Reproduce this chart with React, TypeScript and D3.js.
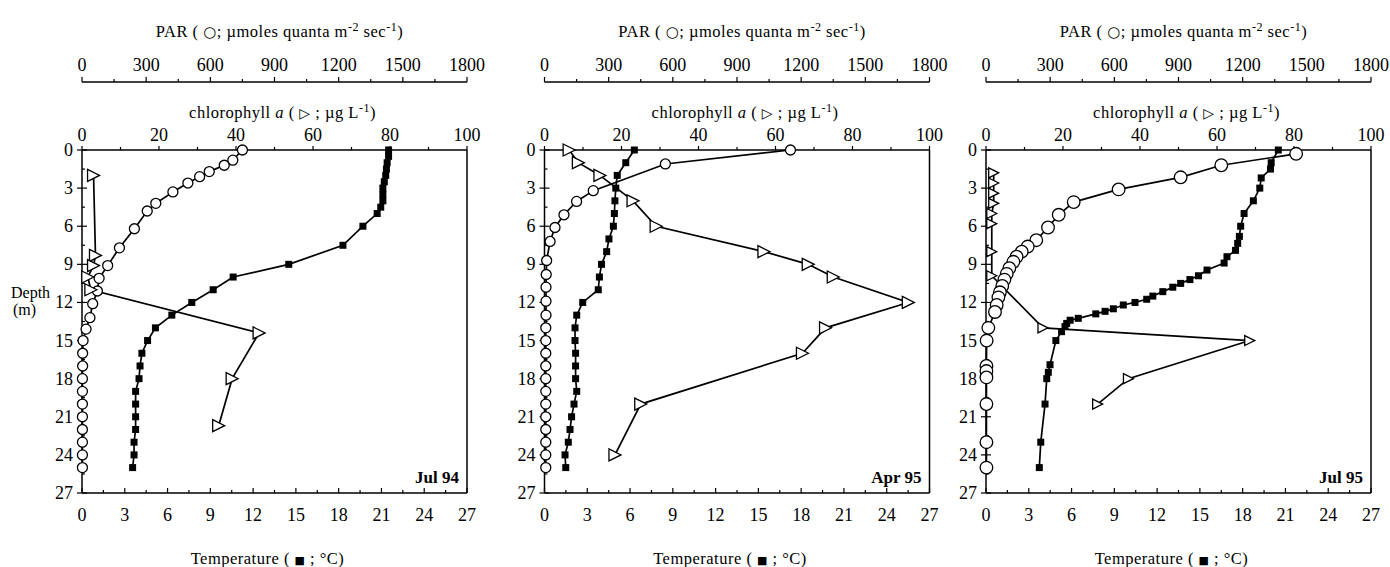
import React from 'react';
import * as d3 from 'd3';

// tick values
const parTicks = [0, 300, 600, 900, 1200, 1500, 1800];
const chlTicks = [0, 20, 40, 60, 80, 100];
const tempTicks = [0, 3, 6, 9, 12, 15, 18, 21, 24, 27];
const depthTicks = [0, 3, 6, 9, 12, 15, 18, 21, 24, 27];
const panelLabels = ['Jul 94', 'Apr 95', 'Jul 95'];

// Jul 94
const jul94ParDepth = [0, 0.8, 1.2, 1.7, 2.1, 2.6, 3.3, 4.2, 4.8, 6.2, 7.7, 9.1, 10.1, 11.1, 12.1, 13.2, 14.1, 15, 16, 17, 18, 19, 20, 21, 22, 23, 24, 25];
const jul94Par = [750, 705, 665, 595, 550, 495, 425, 345, 305, 245, 175, 120, 80, 72, 50, 37, 19, 5, 3, 3, 2, 2, 2, 2, 2, 2, 2, 2];
const jul94ChlDepth = [2, 8.3, 9.1, 10, 11, 14.4, 18, 21.7];
const jul94Chl = [3, 3.5, 3, 1.5, 2.3, 46, 39, 35.5];
const jul94TempDepth = [0, 0.5, 1, 1.5, 2, 2.5, 3, 3.5, 4, 4.5, 5, 6, 7.5, 9, 10, 11, 12, 13, 14, 15, 16, 17, 18, 19, 20, 21, 22, 23, 24, 25];
const jul94Temp = [21.5, 21.5, 21.4, 21.35, 21.3, 21.2, 21.1, 21.1, 21.1, 20.95, 20.7, 19.7, 18.3, 14.5, 10.6, 9.2, 7.7, 6.3, 5.15, 4.6, 4.2, 4.07, 4.0, 3.76, 3.76, 3.76, 3.76, 3.65, 3.65, 3.55];

// Apr 95
const apr95ParDepth = [0, 1.1, 3.2, 4.05, 5.1, 6.1, 7.2, 8.7, 9.8, 10.8, 11.9, 13, 14, 15, 16, 17, 18, 19, 20, 21, 22, 23, 24, 25];
const apr95Par = [1150, 565, 228, 150, 91, 49, 26, 10, 8, 7, 7, 7, 6, 6, 6, 6, 6, 6, 6, 6, 6, 6, 6, 6];
const apr95ChlDepth = [0, 1, 2, 4, 6, 8, 9, 10, 12, 14, 16, 20, 24];
const apr95Chl = [6.4, 8.8, 14.4, 23, 29, 57, 68.5, 75, 94.5, 73, 67, 25, 18.3];
const apr95TempDepth = [0, 1, 2, 3, 4, 5, 6, 7, 8, 9, 10, 11, 12, 13, 14, 15, 16, 17, 18, 19, 20, 21, 22, 23, 24, 25];
const apr95Temp = [6.3, 5.7, 5.1, 5.0, 4.94, 4.9, 4.83, 4.52, 4.36, 4.0, 3.85, 3.77, 2.68, 2.26, 2.14, 2.14, 2.18, 2.18, 2.18, 2.26, 2.07, 1.9, 1.79, 1.67, 1.44, 1.49];

// Jul 95
const jul95ParDepth = [0.3, 1.2, 2.15, 3.1, 4.1, 5.1, 6.1, 7.1, 7.6, 8.0, 8.4, 8.8, 9.3, 9.75, 10.2, 10.7, 11.2, 11.6, 12.2, 12.75, 14, 15, 17, 17.4, 17.9, 20, 23, 25];
const jul95Par = [1450, 1100, 910, 620, 410, 340, 290, 235, 195, 167, 143, 128, 109, 97, 86, 76, 65, 58, 50, 42, 11, 3, 2, 2, 2, 2, 2, 2];
const jul95ChlDepth = [1.8, 2.6, 3.4, 4.2, 5.0, 5.8, 8, 9.9, 14, 15, 18, 20];
const jul95Chl = [2, 2, 2, 2, 1.5, 1.5, 1.5, 1.5, 14.8, 68.5, 37, 29];
const jul95TempDepth = [0, 1, 1.5, 2.2, 3, 4, 5, 6, 6.8, 7.35, 7.9, 8.4, 8.9, 9.45, 9.9, 10.2, 10.5, 10.8, 11.15, 11.5, 11.75, 12, 12.2, 12.5, 12.7, 12.9, 13.25, 13.4, 13.65, 13.9, 14.3, 15, 16.9, 17.5, 18, 20, 23, 25];
const jul95Temp = [20.5, 20.0, 19.95, 19.3, 19.2, 18.75, 18.1, 17.86, 17.77, 17.65, 17.5, 16.9, 16.7, 15.5, 14.9, 14.3, 13.65, 13.1, 12.4, 11.7, 11.27, 10.45, 9.63, 8.93, 8.35, 7.7, 6.47, 5.9, 5.66, 5.54, 5.3, 4.9, 4.49, 4.37, 4.26, 4.14, 3.84, 3.74];

const FONT = "'Liberation Serif', 'Times New Roman', 'DejaVu Serif', serif";
const W = 385;
const TOP = 150;
const BOT = 493;
const PAR_Y = 82;
const panelLeft = [82, 544.5, 986];
const circleR = [5, 5, 6.3];
const triSize = [12, 12, 10];

const Panel = ({ i, parD, par, chlD, chl, tD, t }) => {
  const x0 = panelLeft[i];
  const xT = d3.scaleLinear().domain([0, 27]).range([x0, x0 + W]);
  const xPar = d3.scaleLinear().domain([0, 1800]).range([x0, x0 + W]);
  const xChl = d3.scaleLinear().domain([0, 100]).range([x0, x0 + W]);
  const y = d3.scaleLinear().domain([0, 27]).range([TOP, BOT]);
  const line = d3.line();
  const pts = (vals, ds, sx) => ds.map((d, k) => [sx(vals[k]), y(d)]);
  const cx = x0 + W / 2;
  const r = circleR[i];
  const ts = triSize[i];

  return (
    <g>
      {/* PAR axis */}
      <text x={cx + 5} y={37} textAnchor="middle" fontSize={16.5} letterSpacing={0.5} fontFamily={FONT}>
        PAR  ( <tspan fontFamily="DejaVu Sans" fontSize={15}>○</tspan>; µmoles quanta m<tspan dy={-6} fontSize={12}>-2</tspan><tspan dy={6}> sec</tspan><tspan dy={-6} fontSize={12}>-1</tspan><tspan dy={6}>)</tspan>
      </text>
      <line x1={x0} x2={x0 + W} y1={PAR_Y} y2={PAR_Y} stroke="#000" strokeWidth={1.5} />
      {d3.range(0, 1801, 150).map(v => (
        <line key={'pm' + v} x1={xPar(v)} x2={xPar(v)} y1={PAR_Y} y2={PAR_Y - (v % 300 === 0 ? 5 : 3)} stroke="#000" strokeWidth={1.2} />
      ))}
      {parTicks.map(v => (
        <text key={'pt' + v} x={xPar(v)} y={71} textAnchor="middle" fontSize={18} fontFamily={FONT}>{v}</text>
      ))}

      {/* chlorophyll axis */}
      <text x={cx + 8} y={118} textAnchor="middle" fontSize={16.5} letterSpacing={0.5} fontFamily={FONT}>
        chlorophyll <tspan fontStyle="italic">a</tspan>  (  <tspan fontFamily="DejaVu Sans" fontSize={14}>▷</tspan> ;  µg L<tspan dy={-6} fontSize={12}>-1</tspan><tspan dy={6}>)</tspan>
      </text>
      {d3.range(0, 101, 10).map(v => (
        <line key={'cm' + v} x1={xChl(v)} x2={xChl(v)} y1={TOP} y2={TOP - (v % 20 === 0 ? 4 : 3)} stroke="#000" strokeWidth={1.2} />
      ))}
      {chlTicks.map(v => (
        <text key={'ct' + v} x={xChl(v)} y={141} textAnchor="middle" fontSize={18} fontFamily={FONT}>{v}</text>
      ))}

      {/* frame */}
      <line x1={x0} x2={x0 + W} y1={TOP} y2={TOP} stroke="#000" strokeWidth={1.5} />
      <line x1={x0} x2={x0 + W} y1={BOT} y2={BOT} stroke="#000" strokeWidth={1.5} />
      <line x1={x0} x2={x0} y1={TOP} y2={BOT} stroke="#000" strokeWidth={1.5} />
      <line x1={x0 + W} x2={x0 + W} y1={TOP} y2={BOT} stroke="#000" strokeWidth={1.5} />

      {/* depth axis */}
      {d3.range(0, 27.01, 1.5).map(v => (
        v % 3 === 0
          ? <line key={'dm' + v} x1={x0 - 5} x2={x0 + 5} y1={y(v)} y2={y(v)} stroke="#000" strokeWidth={1.2} />
          : <line key={'dm' + v} x1={x0} x2={x0 + 3} y1={y(v)} y2={y(v)} stroke="#000" strokeWidth={1.2} />
      ))}
      {depthTicks.map(v => (
        <text key={'dt' + v} x={x0 - 9} y={y(v) + 6} textAnchor="end" fontSize={18} fontFamily={FONT}>{v}</text>
      ))}

      {/* temperature axis */}
      {d3.range(0, 27.01, 1.5).map(v => (
        <line key={'tm' + v} x1={xT(v)} x2={xT(v)} y1={BOT} y2={BOT - (v % 3 === 0 ? 5 : 3)} stroke="#000" strokeWidth={1.2} />
      ))}
      {tempTicks.map(v => (
        <text key={'tt' + v} x={xT(v)} y={521} textAnchor="middle" fontSize={18} fontFamily={FONT}>{v}</text>
      ))}
      <text x={cx - 7} y={564} textAnchor="middle" fontSize={16.5} letterSpacing={0.5} fontFamily={FONT}>
        Temperature ( <tspan fontFamily="DejaVu Sans" fontSize={11}>■</tspan> ; °C)
      </text>

      {/* panel label */}
      <text x={x0 + W - 8} y={483} textAnchor="end" fontSize={17} fontWeight="bold" fontFamily={FONT}>{panelLabels[i]}</text>

      {/* series */}
      <path d={line(pts(t, tD, xT))} fill="none" stroke="#000" strokeWidth={1.7} />
      <path d={line(pts(par, parD, xPar))} fill="none" stroke="#000" strokeWidth={1.7} />
      <path d={line(pts(chl, chlD, xChl))} fill="none" stroke="#000" strokeWidth={1.7} />
      {pts(t, tD, xT).map(([px, py], k) => (
        <rect key={'sq' + k} x={px - 3.5} y={py - 3.5} width={7} height={7} fill="#000" />
      ))}
      {pts(par, parD, xPar).map(([px, py], k) => (
        <circle key={'ci' + k} cx={px} cy={py} r={r} fill="#fff" stroke="#000" strokeWidth={1.3} />
      ))}
      {pts(chl, chlD, xChl).map(([px, py], k) => (
        <path key={'tr' + k}
          d={`M${px - ts / 2},${py - ts / 2}L${px + ts / 2},${py}L${px - ts / 2},${py + ts / 2}Z`}
          fill="#fff" stroke="#000" strokeWidth={1.3} strokeLinejoin="miter" />
      ))}
    </g>
  );
};

export default function App() {
  return (
    <svg width={1390} height={567} style={{ position: 'absolute', left: 0, top: 0, background: '#fff' }}>
      <rect width={1390} height={567} fill="#fff" />
      <Panel i={0} parD={jul94ParDepth} par={jul94Par} chlD={jul94ChlDepth} chl={jul94Chl} tD={jul94TempDepth} t={jul94Temp} />
      <Panel i={1} parD={apr95ParDepth} par={apr95Par} chlD={apr95ChlDepth} chl={apr95Chl} tD={apr95TempDepth} t={apr95Temp} />
      <Panel i={2} parD={jul95ParDepth} par={jul95Par} chlD={jul95ChlDepth} chl={jul95Chl} tD={jul95TempDepth} t={jul95Temp} />
      <text x={11} y={298} fontSize={16} fontFamily={FONT}>Depth</text>
      <text x={13} y={315} fontSize={16} fontFamily={FONT}>(m)</text>
    </svg>
  );
}
